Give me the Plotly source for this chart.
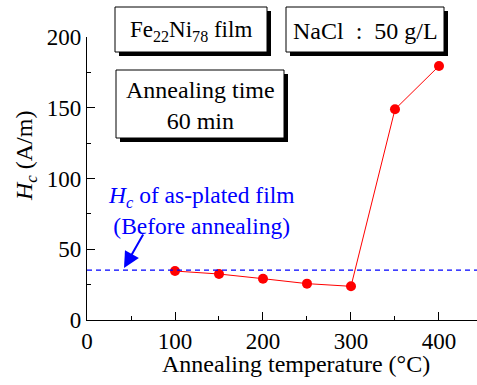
import plotly.graph_objects as go

temps = [100, 150, 200, 250, 300, 350, 400]
hc = [34.6, 32.5, 29.2, 25.7, 23.8, 148.9, 179.5]
as_plated = 35.3
x_ticks = [0, 100, 200, 300, 400]
y_ticks = [0, 50, 100, 150, 200]

W, H = 477, 385
L, R, T, B = 87, 477, 37, 320  # plot area in pixels
X0, X1 = 0, 443.2
FONT = "'Liberation Serif', 'Times New Roman', 'DejaVu Serif', serif"

def px(x):
    return (x - L) / (R - L)

def py(y):
    return (B - y) / (B - T)

fig = go.Figure()
fig.add_trace(go.Scatter(
    x=temps, y=hc, mode="lines+markers",
    line=dict(color="#FF0000", width=1),
    marker=dict(color="#FF0000", size=10),
    showlegend=False, cliponaxis=False,
))
fig.add_trace(go.Scatter(
    x=[X0, X1], y=[as_plated, as_plated], mode="lines",
    line=dict(color="#0000FF", width=1.2, dash="5px,4px"),
    showlegend=False,
))

shapes = []
annos = []
boxes = [
    (115, 7, 267, 52, "Fe<sub>22</sub>Ni<sub>78</sub> film", 23),
    (286, 7, 444, 52, "NaCl\u00a0\u00a0:\u00a0\u00a050 g/L", 24),
    (116, 70, 284, 138, "Annealing time<br>60 min", 24),
]
for (x0, y0, x1, y1, txt, fs) in boxes:
    shapes.append(dict(type="rect", xref="paper", yref="paper",
                       x0=px(x0 + 4), x1=px(x1 + 4), y0=py(y0 + 4), y1=py(y1 + 4),
                       fillcolor="black", line=dict(width=0), layer="above"))
    shapes.append(dict(type="rect", xref="paper", yref="paper",
                       x0=px(x0), x1=px(x1), y0=py(y0), y1=py(y1),
                       fillcolor="white", line=dict(color="black", width=1), layer="above"))
    annos.append(dict(xref="paper", yref="paper", x=px((x0 + x1) / 2), y=py((y0 + y1) / 2 + 1),
                      text=txt, showarrow=False, xanchor="center", yanchor="middle",
                      font=dict(family=FONT, size=fs, color="black")))

annos.append(dict(xref="paper", yref="paper", x=px(201), y=py(211),
                  text="<i>H<sub>c</sub></i> of as-plated film<br>(Before annealing)",
                  showarrow=False, xanchor="center", yanchor="middle",
                  font=dict(family=FONT, size=23.5, color="#0000FF")))
annos.append(dict(xref="paper", yref="paper", x=px(124), y=py(268),
                  ax=20, ay=-35,
                  text="", showarrow=True, arrowhead=2, arrowsize=1.6, arrowwidth=2,
                  arrowcolor="#0000FF"))
# axis titles
annos.append(dict(xref="paper", yref="paper", x=px(296), y=py(364),
                  text="Annealing temperature (°C)", showarrow=False,
                  xanchor="center", yanchor="middle",
                  font=dict(family=FONT, size=24, color="black")))
annos.append(dict(xref="paper", yref="paper", x=px(26), y=py(156),
                  text="<i>H<sub>c</sub></i> (A/m)", showarrow=False, textangle=-90,
                  xanchor="center", yanchor="middle",
                  font=dict(family=FONT, size=24, color="black")))

fig.update_layout(
    width=W, height=H,
    margin=dict(l=L, r=W - R, t=T, b=H - B),
    plot_bgcolor="white", paper_bgcolor="white",
    font=dict(family=FONT, size=23, color="black"),
    shapes=shapes, annotations=annos,
    xaxis=dict(range=[X0, X1], tickvals=x_ticks, automargin=False,
               ticks="inside", ticklen=8, tickwidth=1, tickcolor="black",
               minor=dict(tickvals=[50, 150, 250, 350], ticks="inside", ticklen=4, tickcolor="black"),
               showline=True, linecolor="black", linewidth=1.2, showgrid=False, zeroline=False,
               tickfont=dict(family=FONT, size=23)),
    yaxis=dict(range=[0, 200], tickvals=y_ticks, automargin=False,
               ticks="inside", ticklen=8, tickwidth=1, tickcolor="black",
               minor=dict(tickvals=[25, 75, 125, 175], ticks="inside", ticklen=4, tickcolor="black"),
               showline=True, linecolor="black", linewidth=1.2, showgrid=False, zeroline=False,
               tickfont=dict(family=FONT, size=23)),
)

fig.write_html("out.html", config={"displayModeBar": False},
               post_script="document.body.style.margin='0';document.body.style.padding='0';")
